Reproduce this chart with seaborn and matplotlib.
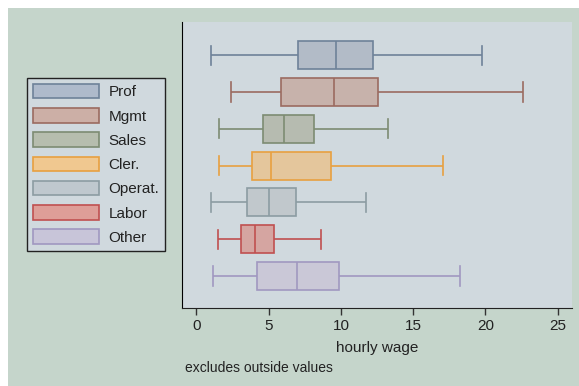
import pandas as pd
import numpy as np
import matplotlib
matplotlib.use('Agg')
import matplotlib.pyplot as plt
import seaborn as sns
from matplotlib.patches import Patch, Rectangle

# hourly wage by occupation: whisker low, q1, median, q3, whisker high
occupations = ['Prof', 'Mgmt', 'Sales', 'Cler.', 'Operat.', 'Labor', 'Other']
prof = [1.0, 7.05, 9.68, 12.2, 19.75]
mgmt = [2.4, 5.85, 9.5, 12.6, 22.6]
sales = [1.55, 4.62, 6.05, 8.15, 13.25]
cler = [1.55, 3.86, 5.13, 9.3, 17.05]
operat = [1.0, 3.52, 5.0, 6.86, 11.75]
labor = [1.5, 3.1, 4.05, 5.35, 8.65]
other = [1.15, 4.22, 6.95, 9.9, 18.25]

fills = ['#AEBACB', '#CCAFA6', '#B6BDAE', '#F0C890', '#BFC8CE', '#DE9E98', '#C8C5D9']
edges = ['#6E8299', '#9B6B60', '#7D8B72', '#E8A040', '#8C9CA2', '#C05050', '#A098C0']

rows = []
for name, vals in zip(occupations, [prof, mgmt, sales, cler, operat, labor, other]):
    for v in vals:
        rows.append({'occ': name, 'wage': v})
df = pd.DataFrame(rows)

plt.rcParams['font.family'] = ['Liberation Sans', 'DejaVu Sans']

fig = plt.figure(figsize=(5.79, 3.86), dpi=100, facecolor='white')
fig.patches.append(Rectangle((8 / 579, 0), 1, 1 - 8 / 386, transform=fig.transFigure,
                             facecolor='#C5D5CB', edgecolor='none', zorder=-10))
ax = fig.add_axes([182 / 579, 1 - 308 / 386, 390 / 579, 286 / 386])
ax.set_facecolor('#D0D9DE')

sns.boxplot(data=df, x='wage', y='occ', hue='occ', order=occupations, hue_order=occupations,
            palette=fills, orient='h', whis=(0, 100), width=0.76, linewidth=1.2,
            showfliers=False, legend=False, ax=ax)

# recolour edges per group and lengthen the whisker caps
for cont, ec in zip(ax.containers, edges):
    for b in cont.boxes:
        b.set_edgecolor(ec)
    for ln in list(cont.medians) + list(cont.whiskers) + list(cont.caps):
        ln.set_color(ec)
    for cap in cont.caps:
        yd = np.asarray(cap.get_ydata(), dtype=float)
        mid = yd.mean()
        cap.set_ydata([mid - 0.26, mid + 0.26])

ax.set_xlim(-1, 26)
ax.set_ylim(6.87, -0.9)
ax.set_xticks([0, 5, 10, 15, 20, 25])
ax.tick_params(axis='x', length=5, width=1, color='#333333', labelsize=11, labelcolor='#222222', pad=3)
ax.tick_params(axis='y', left=False, labelleft=False)
ax.set_ylabel('')
ax.set_xlabel('hourly wage', fontsize=11, color='#222222', labelpad=6)
for s in ['top', 'right']:
    ax.spines[s].set_visible(False)
ax.spines['left'].set_color('black')
ax.spines['bottom'].set_color('#222222')

handles = [Patch(facecolor=f, edgecolor=e, linewidth=1.2) for f, e in zip(fills, edges)]
leg = fig.legend(handles, occupations, loc='upper left', bbox_to_anchor=(27 / 579, 1 - 78 / 386),
                 fontsize=11, frameon=True, fancybox=False, edgecolor='#222222',
                 facecolor='#D0D9DE', framealpha=1, handlelength=4.3, handleheight=1.1,
                 handletextpad=0.65, labelspacing=0.57, borderpad=0.38, borderaxespad=0)
leg.get_frame().set_linewidth(1)
for t in leg.get_texts():
    t.set_color('#222222')

fig.text(185 / 579, 1 - 368 / 386, 'excludes outside values', fontsize=10, color='#222222',
         va='center', ha='left')

fig.savefig('out.png', dpi=100, facecolor=fig.get_facecolor())
